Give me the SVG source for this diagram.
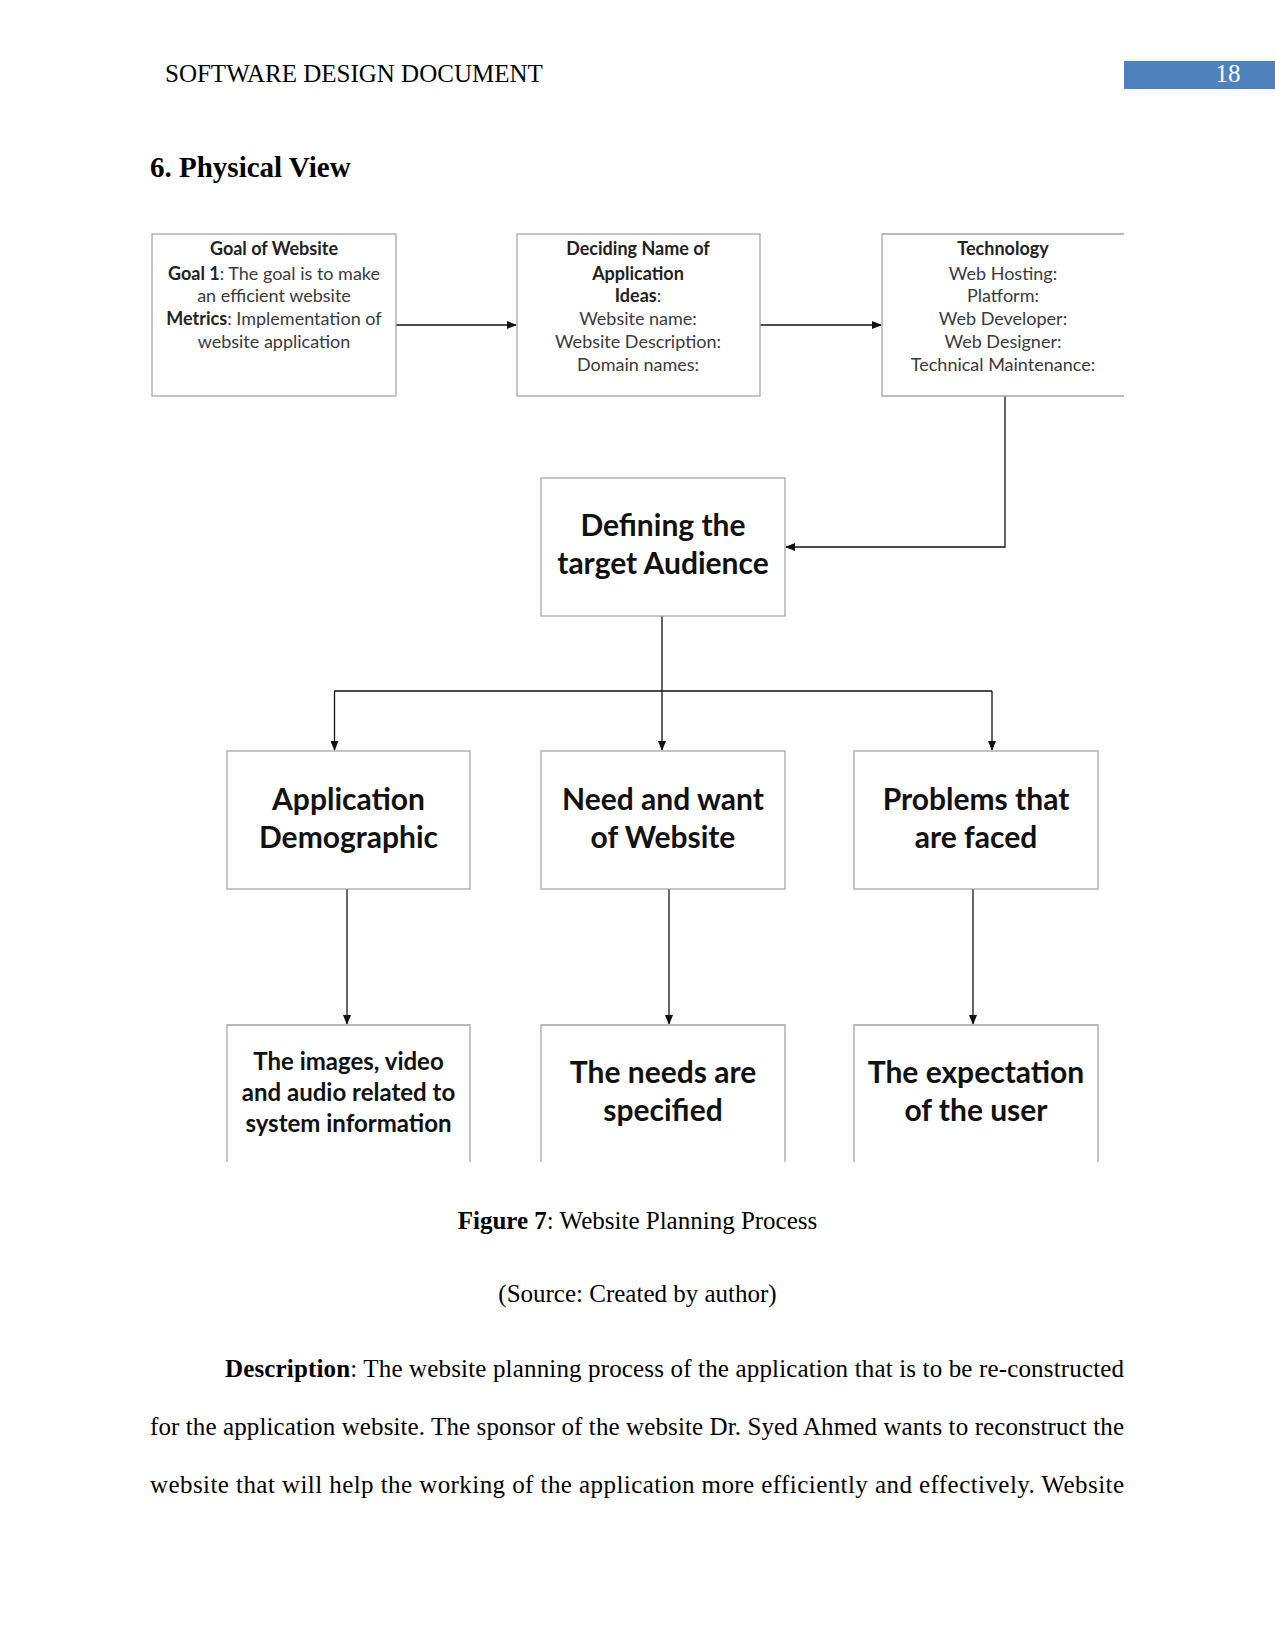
<svg xmlns="http://www.w3.org/2000/svg" width="1275" height="1650" viewBox="0 0 1275 1650">
<defs>
<marker id="ah" markerWidth="10" markerHeight="8" refX="9" refY="4" orient="auto" markerUnits="userSpaceOnUse">
<path d="M0,0 L10,4 L0,8 Z" fill="#111"/>
</marker>
<style>
.page{font-family:"Liberation Serif","Times New Roman",serif;fill:#000;}
.box{fill:#fff;stroke:#a6a6a6;stroke-width:1.3;}
.edge{fill:none;stroke:#a6a6a6;stroke-width:1.3;}
.conn{fill:none;stroke:#111;stroke-width:1.3;marker-end:url(#ah);}
.line{fill:none;stroke:#111;stroke-width:1.3;}
.sm{font-family:Lato,"Noto Sans",sans-serif;font-size:18px;fill:#3a3a3a;text-anchor:middle;}
.smb{font-weight:bold;fill:#222;}
.lg{font-family:Lato,"Noto Sans",sans-serif;font-size:30px;font-weight:bold;fill:#111;text-anchor:middle;}
.md{font-family:Lato,"Noto Sans",sans-serif;font-size:24px;font-weight:bold;fill:#111;text-anchor:middle;}
</style>
</defs>
<rect width="1275" height="1650" fill="#fff"/>

<!-- header -->
<text class="page" x="165" y="82" font-size="25">SOFTWARE DESIGN DOCUMENT</text>
<rect x="1124" y="61" width="151" height="28" fill="#4f81bd"/>
<text x="1228" y="82" font-family="Liberation Serif,serif" font-size="25" fill="#fff" text-anchor="middle">18</text>
<text class="page" x="150" y="177" font-size="29" font-weight="bold">6. Physical View</text>

<!-- connectors -->
<g id="connectors">
<path class="conn" d="M396,325 H516"/>
<path class="conn" d="M760,325 H881"/>
<path class="conn" d="M1005,396 V547 H786"/>
<path class="line" d="M662,616 V691"/>
<path class="line" d="M334.5,691 H992"/>
<path class="conn" d="M334.5,691 V750"/>
<path class="conn" d="M662,691 V750"/>
<path class="conn" d="M992,691 V750"/>
<path class="conn" d="M347,889 V1024"/>
<path class="conn" d="M669,889 V1024"/>
<path class="conn" d="M973,889 V1024"/>
</g>

<g id="goal">
<rect class="box" x="152" y="234" width="244" height="162"/>
<text class="sm" x="274" y="255"><tspan class="smb">Goal of Website</tspan></text>
<text class="sm" x="274" y="280"><tspan class="smb">Goal 1</tspan>: The goal is to make</text>
<text class="sm" x="274" y="302">an efficient website</text>
<text class="sm" x="274" y="325"><tspan class="smb">Metrics</tspan>: Implementation of</text>
<text class="sm" x="274" y="348">website application</text>
</g>

<g id="naming">
<rect class="box" x="517" y="234" width="243" height="162"/>
<text class="sm" x="638" y="255"><tspan class="smb">Deciding Name of</tspan></text>
<text class="sm" x="638" y="280"><tspan class="smb">Application</tspan></text>
<text class="sm" x="638" y="302"><tspan class="smb">Ideas</tspan>:</text>
<text class="sm" x="638" y="325">Website name:</text>
<text class="sm" x="638" y="348">Website Description:</text>
<text class="sm" x="638" y="371">Domain names:</text>
</g>

<g id="technology">
<rect x="882" y="234" width="242" height="162" fill="#fff"/>
<path class="edge" d="M1124,234 H882 V396 H1124"/>
<text class="sm" x="1003" y="255"><tspan class="smb">Technology</tspan></text>
<text class="sm" x="1003" y="280">Web Hosting:</text>
<text class="sm" x="1003" y="302">Platform:</text>
<text class="sm" x="1003" y="325">Web Developer:</text>
<text class="sm" x="1003" y="348">Web Designer:</text>
<text class="sm" x="1003" y="371">Technical Maintenance:</text>
</g>

<g id="audience">
<rect class="box" x="541" y="478" width="244" height="138"/>
<text class="lg" x="663" y="536">Defining the</text>
<text class="lg" x="663" y="574">target Audience</text>
</g>

<g id="demographic">
<rect class="box" x="227" y="751" width="243" height="138"/>
<text class="lg" x="348.5" y="810">Application</text>
<text class="lg" x="348.5" y="848">Demographic</text>
</g>

<g id="needwant">
<rect class="box" x="541" y="751" width="244" height="138"/>
<text class="lg" x="663" y="810">Need and want</text>
<text class="lg" x="663" y="848">of Website</text>
</g>

<g id="problems">
<rect class="box" x="854" y="751" width="244" height="138"/>
<text class="lg" x="976" y="810">Problems that</text>
<text class="lg" x="976" y="848">are faced</text>
</g>

<g id="media">
<path class="edge" d="M227,1162 V1025 H470 V1162"/>
<text class="md" x="348.5" y="1070">The images, video</text>
<text class="md" x="348.5" y="1101">and audio related to</text>
<text class="md" x="348.5" y="1132">system information</text>
</g>

<g id="needs">
<path class="edge" d="M541,1162 V1025 H785 V1162"/>
<text class="lg" x="663" y="1083">The needs are</text>
<text class="lg" x="663" y="1121">specified</text>
</g>

<g id="expectation">
<path class="edge" d="M854,1162 V1025 H1098 V1162"/>
<text class="lg" x="976" y="1083">The expectation</text>
<text class="lg" x="976" y="1121">of the user</text>
</g>

<!-- caption and body -->
<text class="page" x="637.5" y="1229" font-size="25" text-anchor="middle"><tspan font-weight="bold">Figure 7</tspan>: Website Planning Process</text>
<text class="page" x="637.5" y="1302" font-size="25" text-anchor="middle">(Source: Created by author)</text>
<text class="page" x="225" y="1377" font-size="25" textLength="899" lengthAdjust="spacing"><tspan font-weight="bold">Description</tspan>: The website planning process of the application that is to be re-constructed</text>
<text class="page" x="150" y="1435" font-size="25" textLength="974" lengthAdjust="spacing">for the application website. The sponsor of the website Dr. Syed Ahmed wants to reconstruct the</text>
<text class="page" x="150" y="1493" font-size="25" textLength="974" lengthAdjust="spacing">website that will help the working of the application more efficiently and effectively. Website</text>
</svg>
